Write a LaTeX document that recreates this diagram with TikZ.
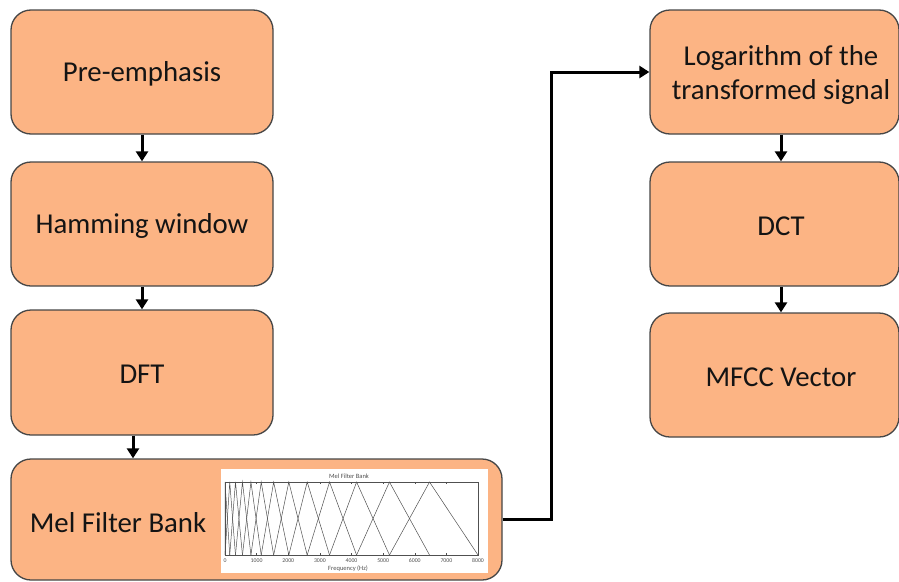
\documentclass[tikz,border=0pt]{standalone}
\usepackage{fontspec}
\setmainfont{Carlito}
\usetikzlibrary{arrows.meta}
\definecolor{boxfill}{RGB}{252,180,132}
\definecolor{boxdraw}{RGB}{70,70,70}
\definecolor{txt}{RGB}{20,20,20}
\definecolor{plotgray}{RGB}{80,80,80}
\begin{document}
\begin{tikzpicture}[x=1pt,y=-1pt,
  box/.style={draw=boxdraw, line width=1.3pt, fill=boxfill, rounded corners=20pt,
    minimum width=262pt, minimum height=124pt, inner sep=0pt},
  lbl/.style={font=\fontsize{28.8}{34}\selectfont, align=center, text=txt, inner sep=0pt},
  arr/.style={line width=3pt, -{Triangle[length=10pt,width=12pt]}},
  tiny/.style={font=\fontsize{6.5}{7}\selectfont, text=plotgray, inner sep=0pt},
  ticklbl/.style={font=\fontsize{5.8}{6}\selectfont, text=plotgray, inner sep=0pt},
  filt/.style={draw=plotgray, line width=0.5pt}]
\useasboundingbox (0,0) rectangle (899,581);

% left column
\node[box] (pre) at (142,72) {};
\node[lbl] (pretxt) at (142,74) {Pre-emphasis};
\node[box] (ham) at (142,224) {};
\node[lbl] (hamtxt) at (142,226) {Hamming window};
\node[box, minimum height=125pt] (dft) at (142,372.5) {};
\node[lbl] (dfttxt) at (142,374.5) {DFT};
\node[box, minimum width=491pt, minimum height=121pt] (mel) at (256.5,519.5) {};
\node[lbl] (meltxt) at (118,523) {Mel Filter Bank};

% right column
\node[box, minimum width=249pt] (log) at (774.5,72) {};
\node[lbl] (logtxt) at (781,75) {Logarithm of the\\transformed signal};
\node[box, minimum width=249pt] (dct) at (774.5,224) {};
\node[lbl] (dcttxt) at (781,226) {DCT};
\node[box, minimum width=249pt] (mfcc) at (774.5,375) {};
\node[lbl] (mfcctxt) at (781,377) {MFCC Vector};

% mel filter bank plot
\node[fill=white, minimum width=267pt, minimum height=104pt, inner sep=0pt] (melimg) at (354.5,521) {};
\node[tiny] (plottitle) at (349,476) {Mel Filter Bank};
\node[tiny] (plotx) at (348,568.5) {Frequency (Hz)};
\foreach \a/\b/\c in {225/225/229.74, 225/229.74/235.47, 229.74/235.47/242.46,
  235.47/242.46/250.93, 242.46/250.93/261.21, 250.93/261.21/273.67,
  261.21/273.67/288.82, 273.67/288.82/307.19, 288.82/307.19/329.52,
  307.19/329.52/356.59, 329.52/356.59/389.45, 356.59/389.45/429.52,
  389.45/429.52/478}
  \draw[filt] (\a,555) -- (\b,482) -- (\c,555);
\draw[draw=plotgray, line width=0.6pt] (225,482) rectangle (478,555);
\foreach \i/\t in {0/0,1/1000,2/2000,3/3000,4/4000,5/5000,6/6000,7/7000,8/8000}{
  \draw[draw=plotgray, line width=0.4pt] (225+\i*31.625,555) -- (225+\i*31.625,553);
  \draw[draw=plotgray, line width=0.4pt] (225+\i*31.625,482) -- (225+\i*31.625,484);
  \node[ticklbl] at (225+\i*31.625,560.5) {\t};
}

% connectors
\draw[arr] (pre.south) -- (ham.north);
\draw[arr] (ham.south) -- (dft.north);
\draw[arr] ([xshift=-9pt]dft.south) -- ([xshift=-9pt]dft.south |- mel.north);
\coordinate (bend) at (551,0);
\draw[arr] (mel.east) -| (bend |- log.west) -- (log.west);
\draw[arr] (logtxt |- log.south) -- (logtxt |- dct.north);
\draw[arr] (dcttxt |- dct.south) -- (dcttxt |- mfcc.north);
\end{tikzpicture}
\end{document}
